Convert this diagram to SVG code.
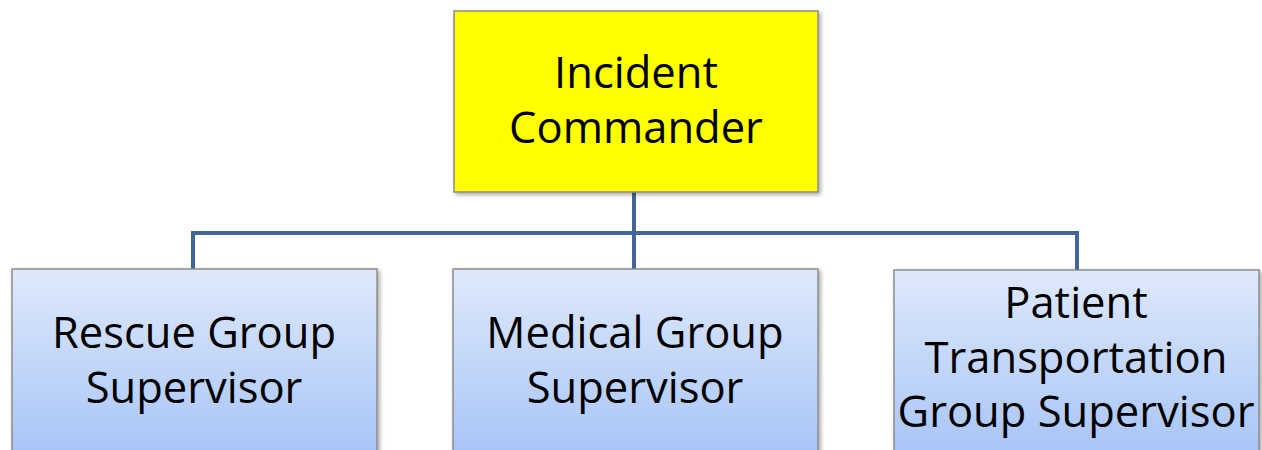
<svg xmlns="http://www.w3.org/2000/svg" width="1262" height="450" viewBox="0 0 1262 450">
<defs>
<linearGradient id="blueGrad" x1="0" y1="0" x2="0" y2="1">
<stop offset="0" stop-color="#dfe9fb"/>
<stop offset="1" stop-color="#a3c2f7"/>
</linearGradient>
<filter id="shadow" x="-5%" y="-5%" width="115%" height="115%">
<feDropShadow dx="2" dy="2" stdDeviation="2" flood-color="#000" flood-opacity="0.35"/>
</filter>
</defs>
<style>
.box{stroke:#8c8c8c;stroke-width:1.5;filter:url(#shadow)}
.top{fill:#ffff00}
.sub{fill:url(#blueGrad)}
.lbl{font-family:"Open Sans","Noto Sans",sans-serif;font-size:43.5px;fill:#000;text-anchor:middle}
.conn{fill:none;stroke:#41679a;stroke-width:4}
</style>
<rect width="1262" height="450" fill="#fff"/>
<g id="connectors">
<path class="conn" d="M634 192 V233"/>
<path class="conn" d="M193 269 V233 H1077 V270"/>
<path class="conn" d="M634 233 V269"/>
</g>
<g id="incident-commander">
<rect class="box top" x="454" y="11" width="364" height="181"/>
<text class="lbl" x="636" y="88">Incident</text>
<text class="lbl" x="636" y="143">Commander</text>
</g>
<g id="rescue-group">
<rect class="box sub" x="12" y="269" width="365" height="200"/>
<text class="lbl" x="194" y="348">Rescue Group</text>
<text class="lbl" x="194" y="403">Supervisor</text>
</g>
<g id="medical-group">
<rect class="box sub" x="453" y="269" width="365" height="200"/>
<text class="lbl" x="635" y="348">Medical Group</text>
<text class="lbl" x="635" y="403">Supervisor</text>
</g>
<g id="transport-group">
<rect class="box sub" x="894" y="270" width="365" height="200"/>
<text class="lbl" x="1076" y="318">Patient</text>
<text class="lbl" x="1076" y="373">Transportation</text>
<text class="lbl" x="1076" y="427">Group Supervisor</text>
</g>
</svg>
